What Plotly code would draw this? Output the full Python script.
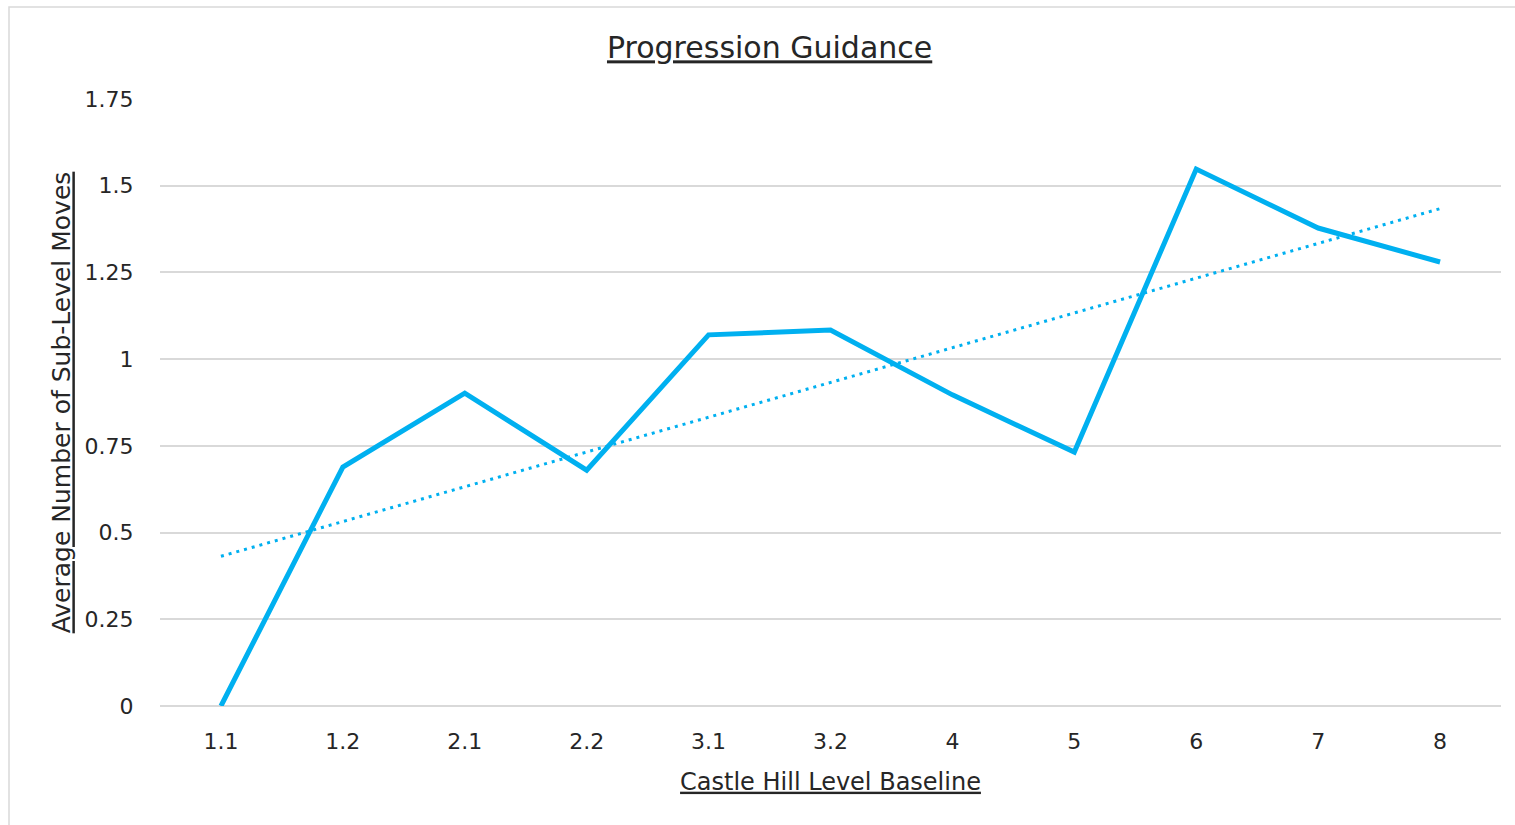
import plotly.graph_objects as go
import numpy as np

# data
levels = ["1.1", "1.2", "2.1", "2.2", "3.1", "3.2", "4", "5", "6", "7", "8"]
avg_moves = [0.0, 0.689, 0.902, 0.680, 1.070, 1.084, 0.897, 0.732, 1.548, 1.378, 1.280]
y_ticks = [0, 0.25, 0.5, 0.75, 1, 1.25, 1.5, 1.75]
y_tick_text = ["0", "0.25", "0.5", "0.75", "1", "1.25", "1.5", "1.75"]

# linear trendline like Excel's
idx = np.arange(1, len(levels) + 1)
slope, intercept = np.polyfit(idx, avg_moves, 1)
trend = slope * idx + intercept

font_family = "'DejaVu Sans', sans-serif"
blue = "#00B0F0"
text_col = "#262626"

fig = go.Figure()

fig.add_trace(go.Scatter(
    x=levels, y=trend, mode="lines",
    line=dict(color=blue, width=3, dash="3px,5px"),
    hoverinfo="skip", showlegend=False
))
fig.add_trace(go.Scatter(
    x=levels, y=avg_moves, mode="lines",
    line=dict(color=blue, width=5),
    showlegend=False
))

fig.update_layout(
    width=1515, height=825,
    margin=dict(l=160, r=14, t=99, b=119),
    paper_bgcolor="white",
    plot_bgcolor="white",
    font=dict(family=font_family, color=text_col, size=22),
    title=dict(
        text="<u>Progression Guidance</u>",
        x=0.508, xanchor="center", y=0.942, yanchor="middle",
        font=dict(size=30, color=text_col)
    ),
    xaxis=dict(
        type="category", range=[-0.5, 10.5],
        showgrid=False, zeroline=False, showline=False,
        ticks="outside", ticklen=16, tickcolor="rgba(0,0,0,0)",
        tickfont=dict(size=22),
        title=dict(text="<u>Castle Hill Level Baseline</u>", font=dict(size=24), standoff=19),
    ),
    yaxis=dict(
        range=[0, 1.75], tickvals=y_ticks, ticktext=y_tick_text,
        showgrid=True, gridcolor="#d9d9d9", gridwidth=1.5,
        zeroline=True, zerolinecolor="#d9d9d9", zerolinewidth=1.5,
        showline=False,
        ticks="outside", ticklen=21, tickcolor="rgba(0,0,0,0)",
        tickfont=dict(size=22),
        title=dict(text="<u>Average Number of Sub-Level Moves</u>", font=dict(size=25), standoff=6),
    ),
    shapes=[dict(
        type="rect", xref="paper", yref="paper",
        x0=-0.1126, x1=1.02, y0=-0.25, y1=1.1516,
        line=dict(color="#d9d9d9", width=1.5), fillcolor="rgba(0,0,0,0)",
        layer="below"
    )],
)

fig.write_html("out.html", config={"displayModeBar": False},
               post_script="document.body.style.margin='0';")
